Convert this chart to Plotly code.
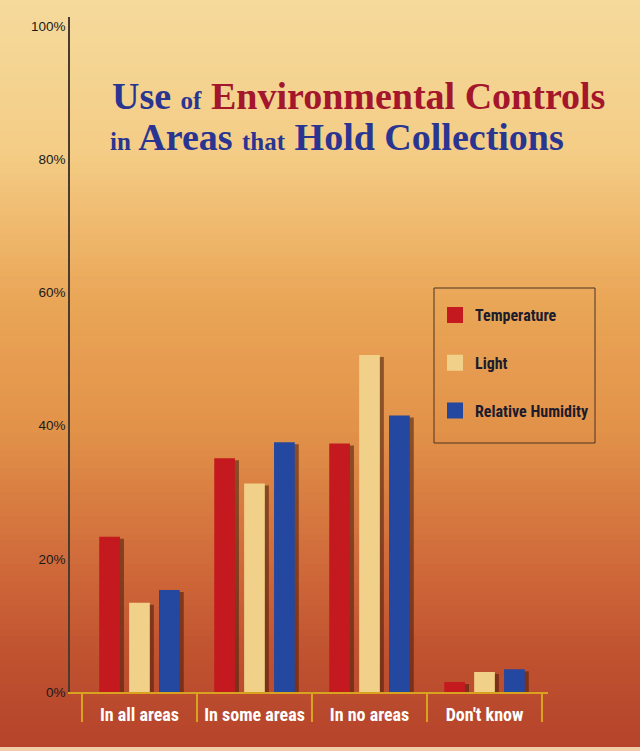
import plotly.graph_objects as go

# ---------------- data ----------------
categories = ["In all areas", "In some areas", "In no areas", "Don't know"]
temperature = [23.0, 34.8, 37.0, 1.2]
light = [13.1, 31.0, 50.3, 2.7]
humidity = [15.0, 37.2, 41.2, 3.1]
series_names = ["Temperature", "Light", "Relative Humidity"]
y_tickvals = [0, 20, 40, 60, 80, 100]
y_ticktext = ["0%", "20%", "40%", "60%", "80%", "100%"]

# ---------------- layout helpers ----------------
W, H = 640, 751
ML, MR, MT, MB = 70, 92, 17, 59
PW = W - ML - MR
PH = H - MT - MB


def px(x):
    return (x - ML) / PW


def py(y):
    return (H - MB - y) / PH


def hex2rgb(h):
    h = h.lstrip("#")
    return tuple(int(h[i:i + 2], 16) for i in (0, 2, 4))


bg_keys = [(0, "#f5da9c"), (150, "#f4cd86"), (300, "#eaa657"), (430, "#e29249"),
           (560, "#d06b3b"), (660, "#c0512f"), (751, "#b4432b")]


def bg_color(y):
    for (y0, c0), (y1, c1) in zip(bg_keys[:-1], bg_keys[1:]):
        if y0 <= y <= y1:
            t = (y - y0) / (y1 - y0)
            a, b = hex2rgb(c0), hex2rgb(c1)
            r = [round(a[i] + (b[i] - a[i]) * t) for i in range(3)]
            return "rgb(%d,%d,%d)" % tuple(r)
    return bg_keys[-1][1]


shapes = []
step = 6
for yy in range(0, H, step):
    shapes.append(dict(type="rect", xref="paper", yref="paper",
                       x0=px(0), x1=px(W), y0=py(yy + step + 0.5), y1=py(yy),
                       fillcolor=bg_color(yy + step / 2), line=dict(width=0),
                       layer="below"))
# pale strip at the very bottom
shapes.append(dict(type="rect", xref="paper", yref="paper",
                   x0=px(0), x1=px(W), y0=py(H), y1=py(747),
                   fillcolor="#f2cdaa", line=dict(width=0), layer="below"))
# legend frame
shapes.append(dict(type="rect", xref="paper", yref="paper",
                   x0=px(434), x1=px(595), y0=py(443), y1=py(288),
                   line=dict(color="#4a3222", width=1), fillcolor="rgba(0,0,0,0)",
                   layer="above"))

colors = ["#c41a1f", "#f1d189", "#2447a0"]
offsets = [-0.35, -0.09, 0.17]
bar_w = 0.18
LW = 4
lw_units = LW / 115.0
values = [temperature, light, humidity]

fig = go.Figure()
# soft shadows
for vals, off in zip(values, offsets):
    fig.add_trace(go.Bar(x=categories, y=vals, offset=off + 0.035, width=bar_w,
                         marker=dict(color="rgba(70,25,10,0.55)", line=dict(width=0)),
                         showlegend=False, hoverinfo="skip"))
for name, vals, col, off in zip(series_names, values, colors, offsets):
    fig.add_trace(go.Bar(x=categories, y=vals, name=name,
                         offset=off + lw_units / 2, width=bar_w - lw_units,
                         marker=dict(color=col, line=dict(width=LW, color=col)),
                         legendgroup=name))

BLUE = "#2a3591"
RED = "#a3162c"
BIG, SMALL = 38, 25
line1 = ('<span style="font-size:%dpx">Use</span> <span style="font-size:%dpx">of</span> '
         '<span style="font-size:%dpx;fill:%s">Environmental Controls</span>' % (BIG, SMALL, BIG, RED))
line2 = ('<span style="font-size:%dpx">in</span> <span style="font-size:%dpx">Areas</span> '
         '<span style="font-size:%dpx">that</span> <span style="font-size:%dpx">Hold Collections</span>'
         % (SMALL, BIG, SMALL, BIG))

annotations = [
    dict(text=line1, xref="paper", yref="paper", x=px(110), y=py(96),
         xanchor="left", yanchor="middle", showarrow=False,
         font=dict(family="Liberation Serif, Times New Roman, serif", size=BIG,
                   color=BLUE, weight="bold")),
    dict(text=line2, xref="paper", yref="paper", x=px(108), y=py(137),
         xanchor="left", yanchor="middle", showarrow=False,
         font=dict(family="Liberation Serif, Times New Roman, serif", size=BIG,
                   color=BLUE, weight="bold")),
]

COND = "Liberation Sans Narrow, Roboto Condensed, DejaVu Sans Condensed, sans-serif"

fig.update_layout(
    width=W, height=H,
    margin=dict(l=ML, r=MR, t=MT, b=MB, pad=0, autoexpand=False),
    paper_bgcolor="#e8a052",
    plot_bgcolor="rgba(0,0,0,0)",
    barmode="overlay",
    shapes=shapes,
    annotations=annotations,
    showlegend=True,
    legend=dict(x=px(435), y=py(298), xanchor="left", yanchor="top",
                bgcolor="rgba(0,0,0,0)", borderwidth=0, tracegroupgap=24,
                font=dict(family=COND, size=16, color="#1c1c2c", weight="bold")),
    xaxis=dict(type="category", range=[-0.604, 3.552], tickson="boundaries",
               ticks="outside", ticklen=28, tickwidth=1.5, tickcolor="#d9a21f",
               showline=True, linecolor="#d9a21f", linewidth=1.5, tickangle=0,
               automargin=False,
               showgrid=False, zeroline=False, ticklabelstandoff=6,
               tickfont=dict(family=COND, size=18, color="white", weight="bold")),
    yaxis=dict(range=[0, 101.35], tickvals=y_tickvals, ticktext=y_ticktext,
               showline=True, linecolor="#4b3b2e", linewidth=1.5, ticks="",
               showgrid=False, zeroline=False, automargin=False,
               tickfont=dict(family="Liberation Sans, Arial, sans-serif", size=13.5,
                             color="#1a1a1a")),
)

fig.write_html("out.html")
